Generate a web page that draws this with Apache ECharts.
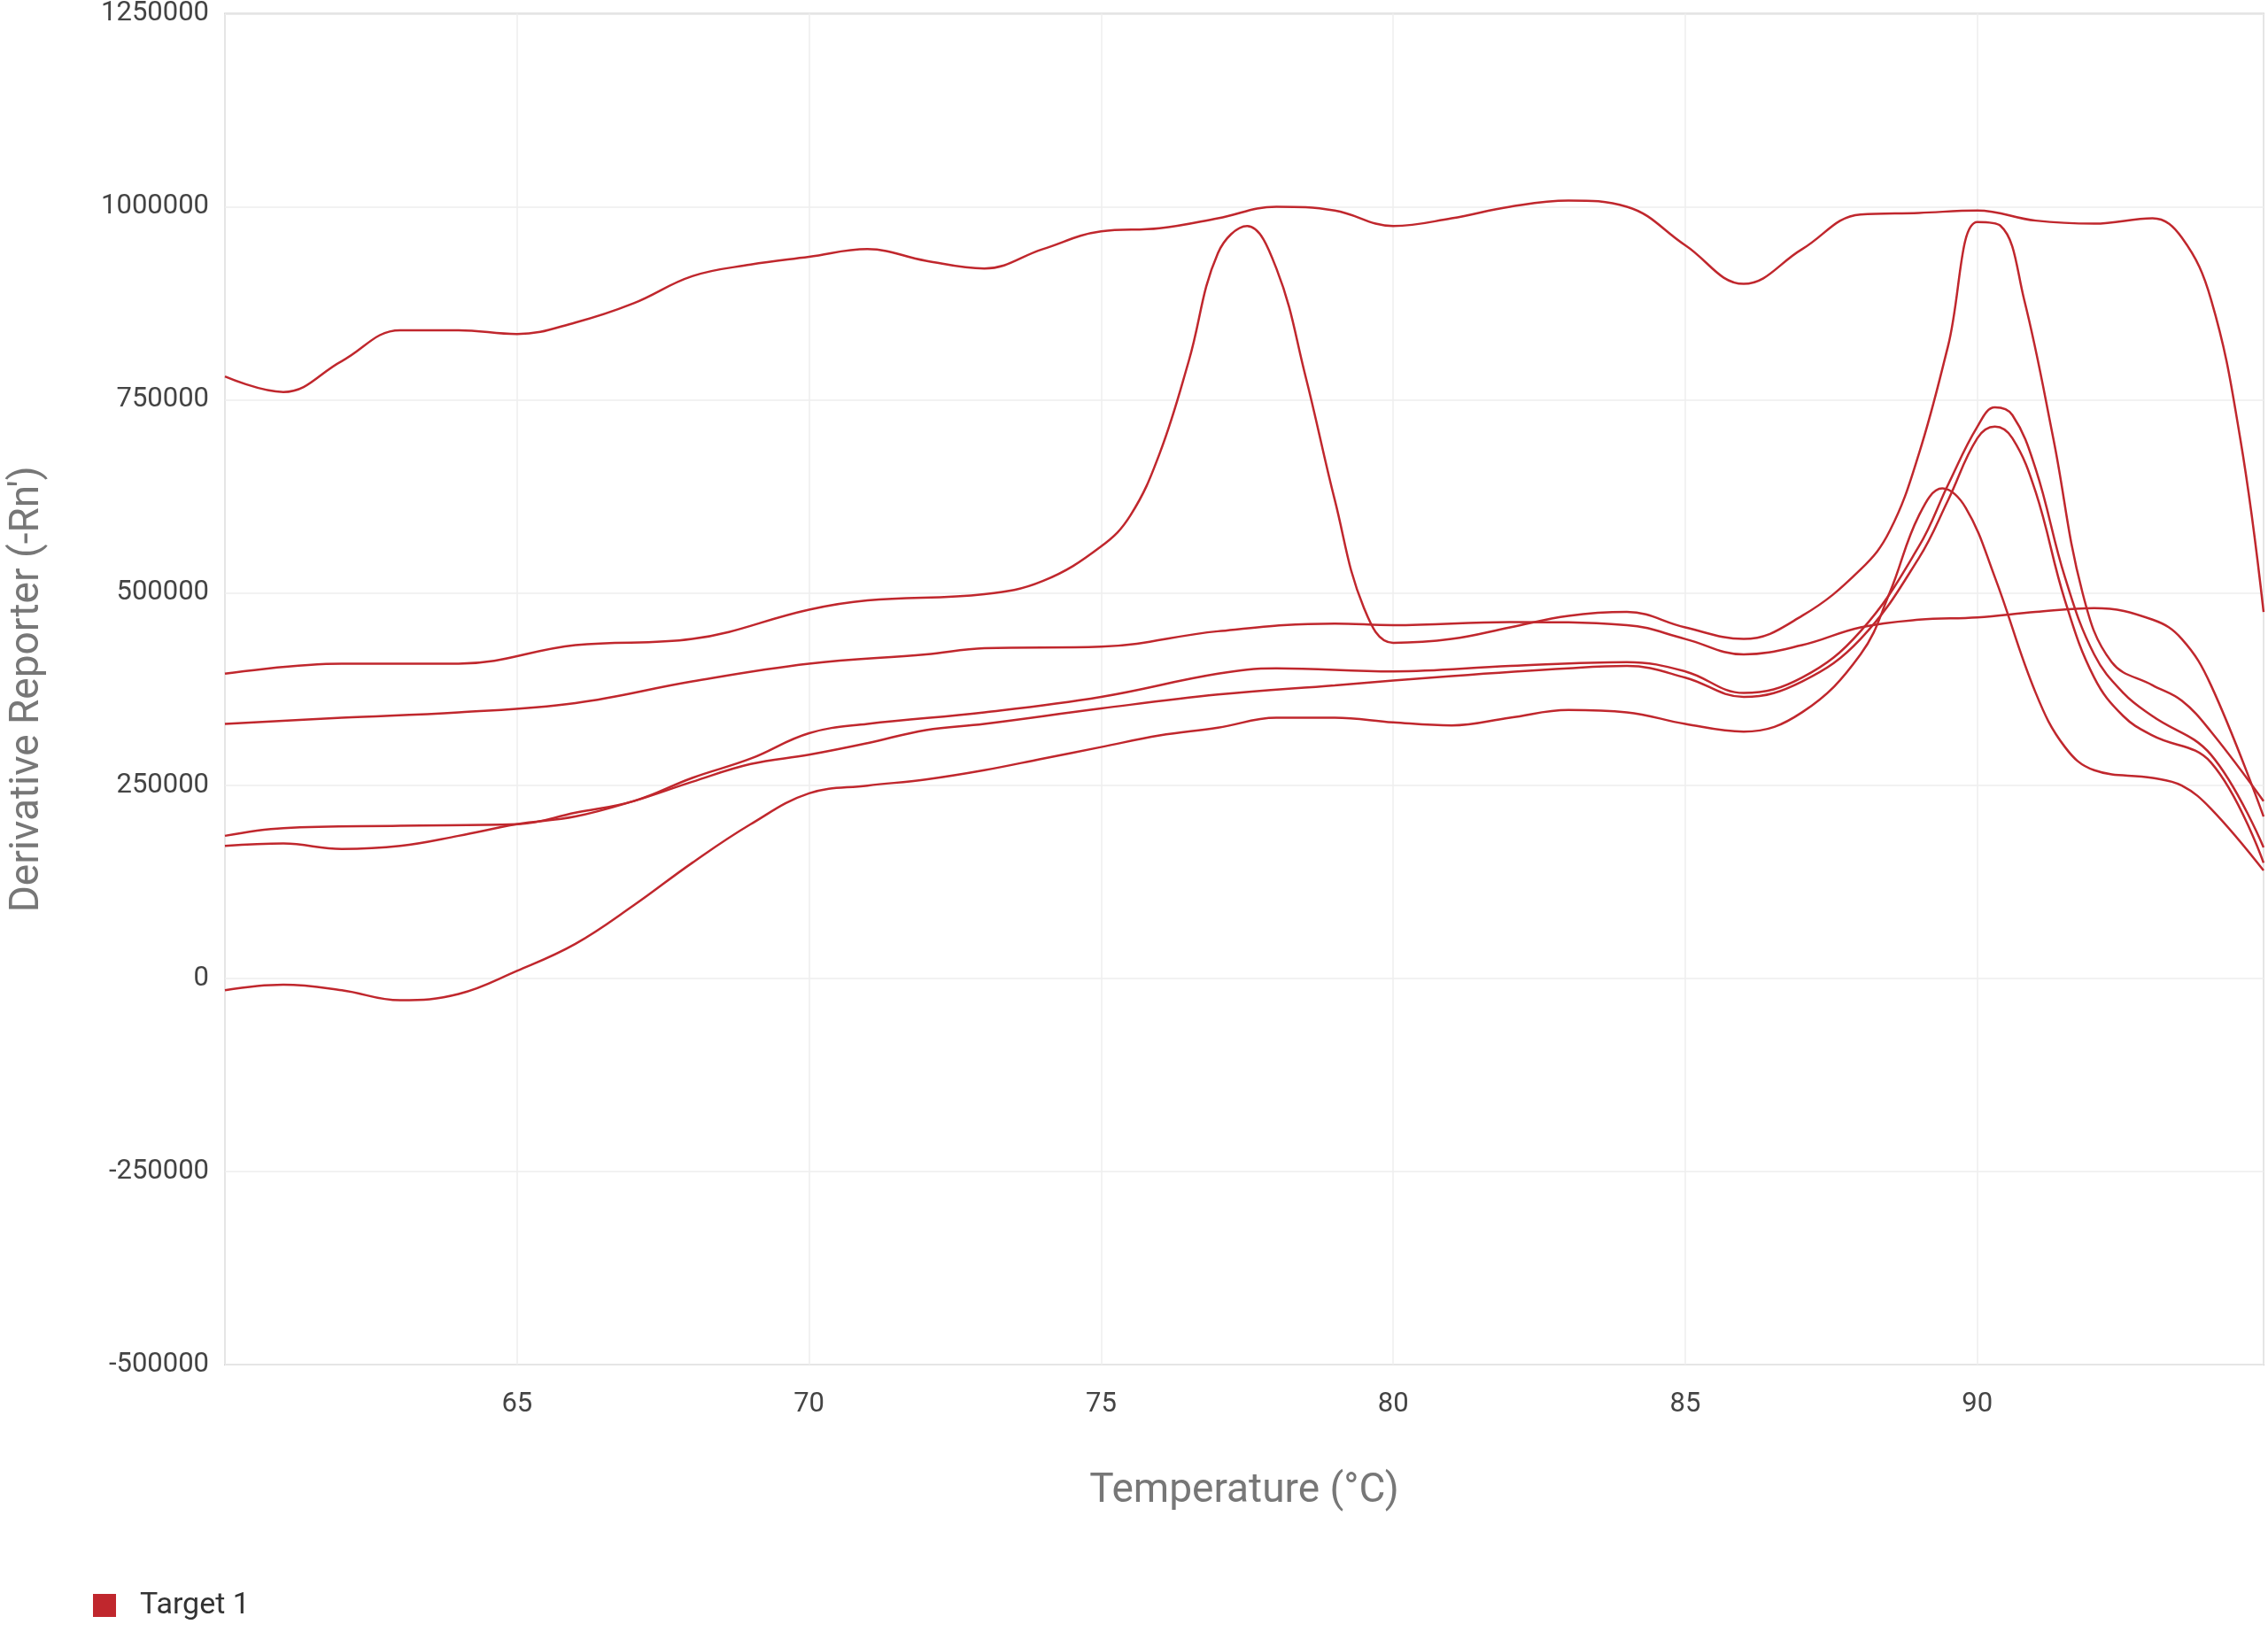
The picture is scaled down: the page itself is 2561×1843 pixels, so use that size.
<!DOCTYPE html>
<html>
<head>
<meta charset="utf-8">
<script src="https://cdn.jsdelivr.net/npm/echarts@6/dist/echarts.min.js"></script>
<style>html,body{margin:0;padding:0;background:#fff}#chart{width:2561px;height:1843px}</style>
</head>
<body>
<div id="chart"></div>
<script>
// melt curves, [temperature, value]
var curveA = [[60,780000],[61,760000],[62,800000],[63,840000],[64,840000],[65,835000],[66,850000],[67,875000],[68,910000],[69,925000],[70,935000],[71,945000],[72,930000],[73,920000],[74,945000],[75,968000],[76,972000],[77,985000],[78,1000000],[79,995000],[80,975000],[81,985000],[82,1000000],[83,1008000],[84,1000000],[85,950000],[86,900000],[87,945000],[88,990000],[89,992000],[90,995000],[91,982000],[92,978000],[93,985000],[93.5,960000],[94,880000],[94.5,700000],[94.9,475000]];
var curveB = [[60,395000],[62,408000],[64,408000],[66,432000],[68,440000],[70,478000],[71,490000],[73,498000],[74,515000],[75,560000],[75.5,600000],[76,680000],[76.5,800000],[77,940000],[77.5,975000],[78,920000],[78.5,780000],[79,620000],[79.5,480000],[80,435000],[81,440000],[82,455000],[83,470000],[84,475000],[85,455000],[86,440000],[87,470000],[88,530000],[88.5,580000],[89,680000],[89.5,820000],[90,980000],[90.4,975000],[90.8,880000],[91.3,700000],[91.8,500000],[92.3,410000],[93,380000],[93.5,360000],[94,320000],[94.9,230000]];
var curveC = [[60,330000],[62,338000],[64,345000],[66,357000],[68,385000],[70,408000],[72,420000],[73,428000],[75,430000],[77,450000],[79,460000],[80,458000],[82,462000],[84,458000],[85,440000],[86,420000],[87,432000],[88,455000],[89,465000],[90,468000],[91,475000],[92,480000],[93,465000],[93.5,440000],[94,380000],[94.9,210000]];
var curveD = [[60,185000],[61,195000],[63,198000],[65,200000],[66,215000],[67,230000],[68,260000],[69,285000],[70,318000],[71,330000],[73,345000],[75,365000],[77,395000],[78,402000],[80,398000],[82,405000],[84,410000],[85,398000],[86,370000],[87,390000],[88,450000],[89,560000],[89.5,640000],[90,715000],[90.3,740000],[90.6,730000],[91,660000],[91.5,520000],[92,420000],[92.5,370000],[93,340000],[94,290000],[94.9,170000]];
var curveE = [[60,172000],[61,175000],[62,168000],[63,172000],[64,185000],[65,200000],[66,210000],[67,230000],[68,255000],[69,278000],[70,290000],[71,305000],[72,322000],[73,330000],[75,350000],[77,368000],[79,380000],[81,392000],[83,402000],[84,405000],[85,390000],[86,365000],[87,385000],[88,440000],[89,545000],[89.5,620000],[90,700000],[90.3,715000],[90.6,700000],[91,630000],[91.5,490000],[92,390000],[92.5,340000],[93,315000],[94,280000],[94.9,150000]];
var curveF = [[60,-15000],[61,-8000],[62,-15000],[63,-28000],[64,-20000],[65,10000],[66,45000],[67,95000],[68,150000],[69,200000],[70,240000],[71,250000],[72,258000],[73,270000],[74,285000],[75,300000],[76,315000],[77,325000],[78,338000],[79,338000],[80,332000],[81,328000],[82,338000],[83,348000],[84,345000],[85,330000],[86,320000],[87,345000],[88,420000],[88.5,500000],[89,600000],[89.4,635000],[89.8,610000],[90.3,520000],[91,370000],[91.5,300000],[92,270000],[93,260000],[93.5,250000],[94,220000],[94.9,140000]];
var curves = [curveA, curveB, curveC, curveD, curveE, curveF];

var chart = echarts.init(document.getElementById('chart'));
var series = curves.map(function (c) {
  return {
    name: 'Target 1',
    type: 'line',
    data: c,
    smooth: 0.4,
    showSymbol: false,
    lineStyle: {color: '#c0272d', width: 2.5},
    itemStyle: {color: '#c0272d'}
  };
});
chart.setOption({
  animation: false,
  grid: {left: 238, right: 5, top: 8, bottom: 302, show: true, borderColor: '#ccc', borderWidth: 2},
  legend: {
    data: ['Target 1'], left: 100, bottom: 8, icon: 'rect', itemWidth: 26, itemHeight: 26,
    textStyle: {fontSize: 34, color: '#333', fontFamily: 'Roboto', padding: [0, 0, 0, 22]}
  },
  xAxis: {
    type: 'value', min: 60, max: 94.9, interval: 5,
    name: 'Temperature (°C)', nameLocation: 'middle', nameGap: 120,
    nameTextStyle: {fontSize: 46, color: '#777', fontFamily: 'Roboto'},
    axisLine: {show: false}, axisTick: {show: false},
    axisLabel: {fontSize: 31, color: '#444', margin: 30, showMinLabel: false, showMaxLabel: false, fontFamily: 'Roboto'},
    splitLine: {lineStyle: {color: '#eee', width: 1.5}}
  },
  yAxis: {
    type: 'value', min: -500000, max: 1250000, interval: 250000,
    name: "Derivative Reporter (-Rn')", nameLocation: 'middle', nameGap: 200,
    nameTextStyle: {fontSize: 46, color: '#777', fontFamily: 'Roboto'},
    axisLine: {show: false}, axisTick: {show: false},
    axisLabel: {fontSize: 31, color: '#444', margin: 18, fontFamily: 'Roboto',
      formatter: function (v) { return String(v); }},
    splitLine: {lineStyle: {color: '#eee', width: 1.5}}
  },
  series: series
});
</script>
</body>
</html>
